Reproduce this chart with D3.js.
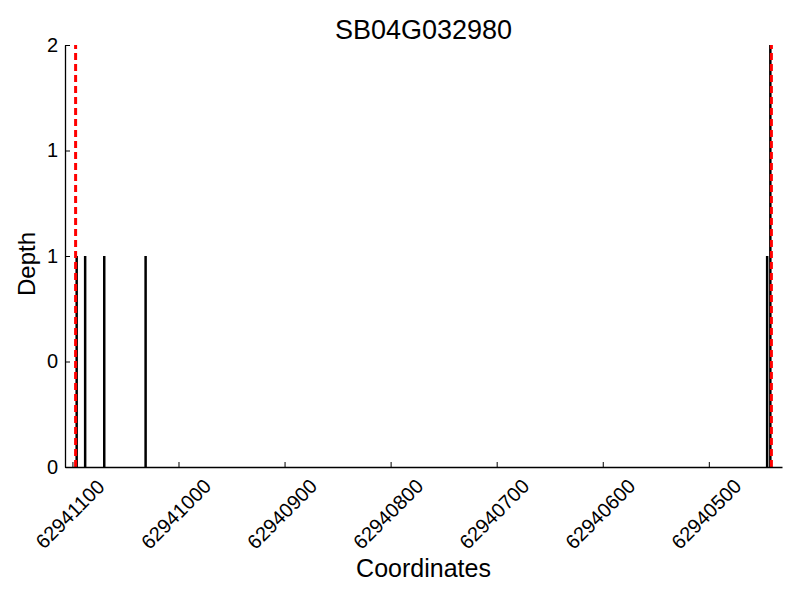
<!DOCTYPE html>
<html>
<head>
<meta charset="utf-8">
<script src="https://cdn.jsdelivr.net/npm/d3@7"></script>
<style>
  body { margin: 0; background: #fff; }
  svg { font-family: "Liberation Sans", Arial, sans-serif; }
</style>
</head>
<body>
<div id="chart"></div>
<script>
// Read depth per coordinate
const positions = [62941096, 62941088, 62941070, 62941031, 62940445, 62940442];
const depths = [1, 1, 1, 1, 1, 2];
// Gene boundaries (red dashed)
const geneBounds = [62941097, 62940441];
const xDomain = [62941107, 62940431];
const xTicks = [62941100, 62941000, 62940900, 62940800, 62940700, 62940600, 62940500];
const yTicks = [0, 0.5, 1, 1.5, 2];

const width = 800, height = 600;
const margin = { left: 65, right: 18, top: 45, bottom: 133 };

const svg = d3.select("#chart").append("svg")
    .attr("width", width)
    .attr("height", height);

const x = d3.scaleLinear()
    .domain(xDomain)
    .range([margin.left, width - margin.right]);

const y = d3.scaleLinear()
    .domain([0, 2])
    .range([height - margin.bottom, margin.top]);

// Depth bars
svg.append("g")
    .selectAll("line")
    .data(positions)
    .join("line")
    .attr("x1", d => x(d))
    .attr("x2", d => x(d))
    .attr("y1", y(0))
    .attr("y2", (d, i) => y(depths[i]))
    .attr("stroke", "#000")
    .attr("stroke-width", 2.5);

// Gene boundaries
svg.append("g")
    .selectAll("line")
    .data(geneBounds)
    .join("line")
    .attr("x1", d => x(d))
    .attr("x2", d => x(d))
    .attr("y1", y(0))
    .attr("y2", y(2))
    .attr("stroke", "#ff0000")
    .attr("stroke-width", 3)
    .attr("stroke-dasharray", "7,4");

// X axis (ticks pointing inward)
const xAxis = svg.append("g")
    .attr("transform", `translate(0,${y(0)})`)
    .call(d3.axisBottom(x).tickValues(xTicks).tickSizeInner(-5).tickSizeOuter(0).tickFormat(d3.format("d")));
xAxis.select(".domain").attr("stroke", "#000").attr("stroke-width", 1.3);
xAxis.selectAll(".tick line").attr("stroke", "#000");
xAxis.selectAll(".tick text")
    .attr("font-size", 20)
    .attr("fill", "#000")
    .attr("text-anchor", "middle")
    .attr("dy", "0.35em")
    .attr("transform", "translate(-3,47) rotate(-45)")
    .attr("y", 0);

// Y axis
const yAxis = svg.append("g")
    .attr("transform", `translate(${margin.left},0)`)
    .call(d3.axisLeft(y).tickValues(yTicks).tickSizeInner(-5).tickSizeOuter(0).tickPadding(7).tickFormat(d => Math.floor(d)));
yAxis.select(".domain").attr("stroke", "#000").attr("stroke-width", 1.3);
yAxis.selectAll(".tick line").attr("stroke", "#000");
yAxis.selectAll(".tick text").attr("font-size", 20).attr("fill", "#000");

// Title and labels
svg.append("text")
    .attr("x", (margin.left + width - margin.right) / 2)
    .attr("y", 39)
    .attr("text-anchor", "middle")
    .attr("font-size", 27)
    .text("SB04G032980");

svg.append("text")
    .attr("x", (margin.left + width - margin.right) / 2)
    .attr("y", 577)
    .attr("text-anchor", "middle")
    .attr("font-size", 25)
    .text("Coordinates");

svg.append("text")
    .attr("transform", `translate(35,${(y(0) + y(2)) / 2 + 8}) rotate(-90)`)
    .attr("text-anchor", "middle")
    .attr("font-size", 24)
    .text("Depth");
</script>
</body>
</html>
